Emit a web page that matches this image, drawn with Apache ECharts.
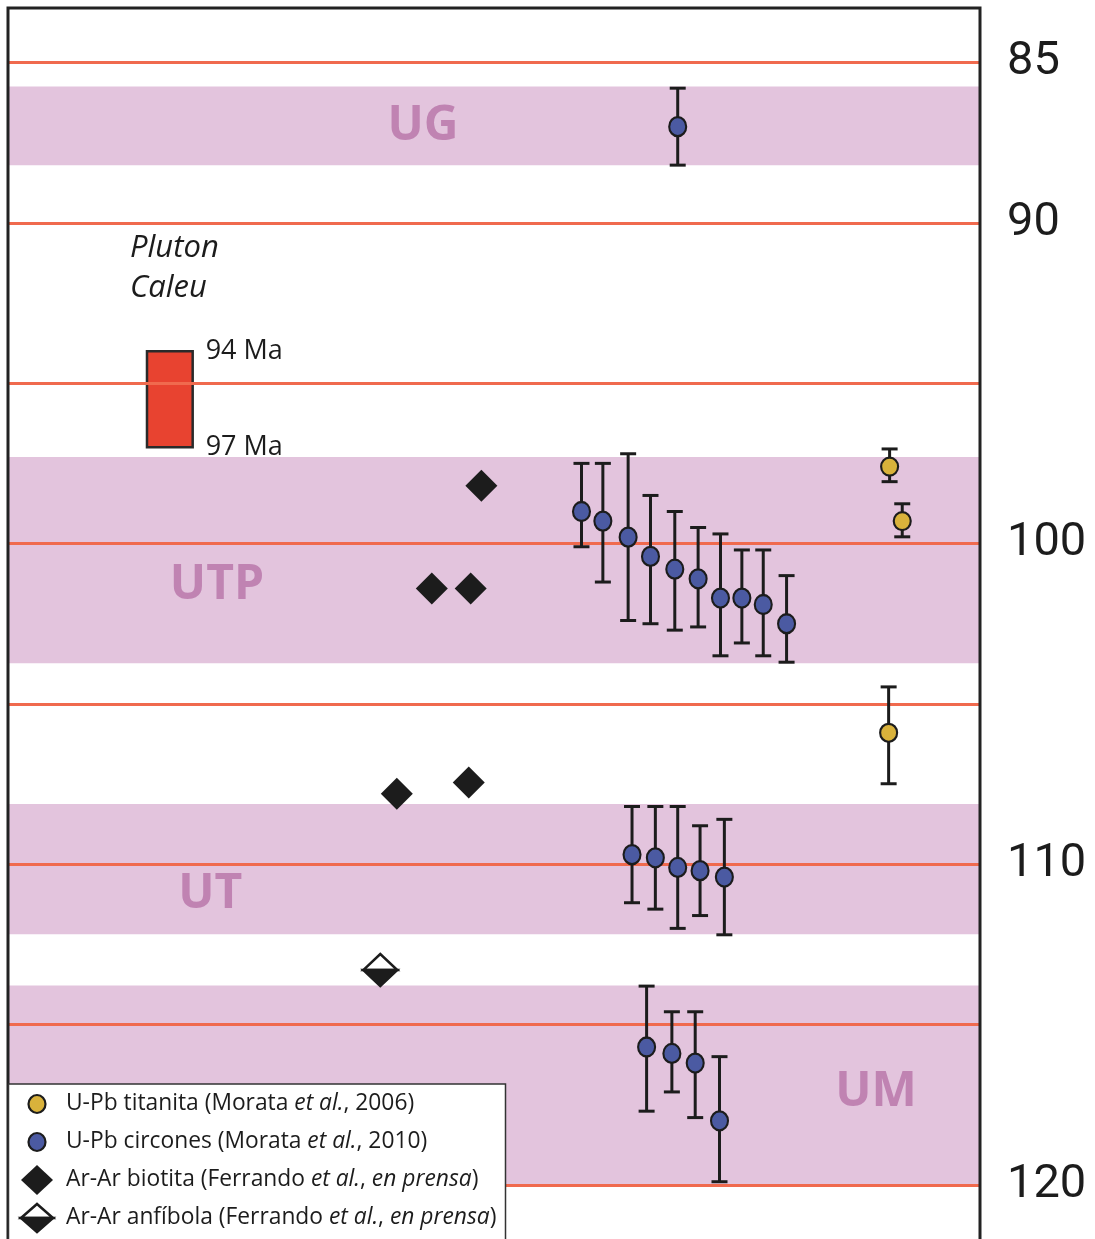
<!DOCTYPE html>
<html>
<head>
<meta charset="utf-8">
<script src="https://cdn.jsdelivr.net/npm/echarts@6/dist/echarts.min.js"></script>
<style>
  html, body { margin: 0; padding: 0; background: #fff; }
  #chart { width: 1095px; height: 1239px; }
</style>
</head>
<body>
<div id="chart"></div>
<script>
// Age axis (Ma), labelled ticks and reference lines
const ageTickLabels = [85, 90, 100, 110, 120];
const ageGridLines = [85, 90, 95, 100, 105, 110, 115, 120];

// Stratigraphic units: name, age span (Ma) and label anchor
const unitNames = ['UG', 'UTP', 'UT', 'UM'];
const unitFrom = [85.75, 97.3, 108.12, 113.78];
const unitTo = [88.2, 103.73, 112.18, 120.0];
const unitLabelX = [42.7, 21.5, 20.8, 89.3];
const unitLabelAge = [87.0, 101.3, 110.95, 117.1];

// U-Pb zircon ages (Morata et al., 2010): column, age, error limits
const zirconX = [68.9, 59.0, 61.2, 63.8, 66.1, 68.6, 71.0, 73.3, 75.5, 77.7, 80.1,
                 64.2, 66.6, 68.9, 71.2, 73.7, 65.7, 68.3, 70.7, 73.2];
const zirconAge = [87.0, 99.0, 99.3, 99.8, 100.4, 100.8, 101.1, 101.7, 101.7, 101.9, 102.5,
                   109.7, 109.8, 110.1, 110.2, 110.4, 115.7, 115.9, 116.2, 118.0];
const zirconMin = [85.8, 97.5, 97.5, 97.2, 98.5, 99.0, 99.5, 99.7, 100.2, 100.2, 101.0,
                   108.2, 108.2, 108.2, 108.8, 108.6, 113.8, 114.6, 114.6, 116.0];
const zirconMax = [88.2, 100.1, 101.2, 102.4, 102.5, 102.7, 102.6, 103.5, 103.1, 103.5, 103.7,
                   111.2, 111.4, 112.0, 111.6, 112.2, 117.7, 117.1, 117.9, 119.9];

// U-Pb titanite ages (Morata et al., 2006)
const titaniteX = [90.7, 92.0, 90.6];
const titaniteAge = [97.6, 99.3, 105.9];
const titaniteMin = [97.05, 98.76, 104.47];
const titaniteMax = [98.07, 99.79, 107.49];

// Ar-Ar biotite ages (Ferrando et al., en prensa)
const biotiteX = [48.7, 43.6, 47.6, 40.0, 47.4];
const biotiteAge = [98.2, 101.4, 101.4, 107.8, 107.45];

// Ar-Ar amphibole age (Ferrando et al., en prensa)
const amphiboleX = [38.3];
const amphiboleAge = [113.3];

// Caleu pluton emplacement range
const plutonX = [14.3, 19.0];
const plutonAge = [94, 97];

const C = {
  band: '#e3c4dd', bandText: '#b673a8', grid: '#f06a4e', ink: '#1c1c1c',
  zircon: '#4b5aa2', titanite: '#d9b23b', pluton: '#e84330'
};
const layout = { left: 8, top: 8, right: 115, bottom: 0 };
const W = 1095, H = 1239;

const chart = echarts.init(document.getElementById('chart'), null, { renderer: 'canvas' });

function errorBars(params, api) {
  const x = api.value(0);
  const a = api.coord([x, api.value(1)]);
  const b = api.coord([x, api.value(2)]);
  const w = 8;
  const st = { stroke: C.ink, lineWidth: 3 };
  return {
    type: 'group',
    children: [
      { type: 'line', shape: { x1: a[0], y1: a[1], x2: b[0], y2: b[1] }, style: st },
      { type: 'line', shape: { x1: a[0] - w, y1: a[1], x2: a[0] + w, y2: a[1] }, style: st },
      { type: 'line', shape: { x1: b[0] - w, y1: b[1], x2: b[0] + w, y2: b[1] }, style: st }
    ]
  };
}

function halfDiamond(cx, cy, s, h, z) {
  return [
    { type: 'polygon', z, shape: { points: [[cx - s, cy], [cx, cy - h], [cx + s, cy]] },
      style: { fill: '#fff', stroke: C.ink, lineWidth: 2.5 } },
    { type: 'polygon', z, shape: { points: [[cx - s, cy], [cx + s, cy], [cx, cy + h]] },
      style: { fill: C.ink, stroke: C.ink, lineWidth: 2.5 } }
  ];
}

const textFont = '"Open Sans", sans-serif';

const option = {
  backgroundColor: '#fff',
  animation: false,
  grid: { left: layout.left, top: layout.top, right: layout.right, bottom: layout.bottom, show: false },
  xAxis: { type: 'value', min: 0, max: 100, show: false },
  yAxis: {
    type: 'value', inverse: true, min: 83.3, max: 121.686, position: 'right',
    axisLine: { show: false }, axisTick: { show: false }, splitLine: { show: false },
    axisLabel: {
      customValues: ageTickLabels, margin: 27, fontSize: 47, color: C.ink,
      fontFamily: 'Roboto', align: 'left'
    }
  },
  series: [
    {
      name: 'unidades', type: 'scatter', data: [], z: 1, silent: true,
      markArea: {
        silent: true, itemStyle: { color: C.band },
        data: unitNames.map((n, i) => [{ yAxis: unitFrom[i] }, { yAxis: unitTo[i] }])
      }
    },
    {
      name: 'lineas', type: 'scatter', data: [], z: 2, silent: true,
      markLine: {
        silent: true, symbol: 'none', label: { show: false },
        lineStyle: { color: C.grid, width: 2.8, type: 'solid' },
        data: ageGridLines.map(v => ({ yAxis: v }))
      }
    },
    {
      name: 'nombres', type: 'scatter', symbolSize: 0, z: 3, silent: true,
      data: unitNames.map((n, i) => ({ name: n, value: [unitLabelX[i], unitLabelAge[i]] })),
      label: {
        show: true, position: 'inside', formatter: '{b}', color: C.bandText,
        fontSize: 48, fontWeight: 'bold', fontFamily: textFont
      }
    },
    {
      name: 'Pluton Caleu', type: 'custom', z: 4, silent: true,
      data: [[plutonX[0], plutonX[1], plutonAge[0], plutonAge[1]]],
      renderItem(params, api) {
        const p0 = api.coord([api.value(0), api.value(2)]);
        const p1 = api.coord([api.value(1), api.value(3)]);
        const lab = (txt, y) => ({
          type: 'text', x: p1[0] + 13, y,
          style: { text: txt, fill: C.ink, font: '27px ' + textFont, verticalAlign: 'middle' }
        });
        return {
          type: 'group',
          children: [
            { type: 'rect', shape: { x: p0[0], y: p0[1], width: p1[0] - p0[0], height: p1[1] - p0[1] },
              style: { fill: C.pluton, stroke: '#2a2a2a', lineWidth: 2.5 } },
            lab(api.value(2) + ' Ma', p0[1]),
            lab(api.value(3) + ' Ma', p1[1])
          ]
        };
      }
    },
    {
      name: 'error circones', type: 'custom', z: 5, silent: true,
      data: zirconX.map((x, i) => [x, zirconMin[i], zirconMax[i]]),
      renderItem: errorBars
    },
    {
      name: 'error titanita', type: 'custom', z: 5, silent: true,
      data: titaniteX.map((x, i) => [x, titaniteMin[i], titaniteMax[i]]),
      renderItem: errorBars
    },
    {
      name: 'U-Pb circones', type: 'scatter', z: 6, symbol: 'circle', symbolSize: [17, 19],
      itemStyle: { color: C.zircon, borderColor: C.ink, borderWidth: 2.2, opacity: 1 },
      data: zirconX.map((x, i) => [x, zirconAge[i]])
    },
    {
      name: 'U-Pb titanita', type: 'scatter', z: 6, symbol: 'circle', symbolSize: [17, 18],
      itemStyle: { color: C.titanite, borderColor: C.ink, borderWidth: 2.2, opacity: 1 },
      data: titaniteX.map((x, i) => [x, titaniteAge[i]])
    },
    {
      name: 'Ar-Ar biotita', type: 'scatter', z: 6, symbol: 'diamond', symbolSize: 32,
      itemStyle: { color: C.ink, opacity: 1 },
      data: biotiteX.map((x, i) => [x, biotiteAge[i]])
    },
    {
      name: 'Ar-Ar anfíbola', type: 'custom', z: 6, silent: true,
      data: amphiboleX.map((x, i) => [x, amphiboleAge[i]]),
      renderItem(params, api) {
        const p = api.coord([api.value(0), api.value(1)]);
        return { type: 'group', children: halfDiamond(p[0], p[1], 17, 16) };
      }
    }
  ],
  graphic: []
};

// Frame of the plot area (bottom edge runs off the page) and the legend box
const frameW = W - layout.left - layout.right;
const legendFont = 22.8;
const legendRich = {
  r: { fontSize: legendFont, fontFamily: textFont, fill: C.ink },
  i: { fontSize: legendFont, fontFamily: textFont, fontStyle: 'italic', fill: C.ink }
};
const legendRows = [
  '{r|U-Pb titanita (Morata }{i|et al.}{r|, 2006)}',
  '{r|U-Pb circones (Morata }{i|et al.}{r|, 2010)}',
  '{r|Ar-Ar biotita (Ferrando }{i|et al.}{r|, }{i|en prensa}{r|)}',
  '{r|Ar-Ar anfíbola (Ferrando }{i|et al.}{r|, }{i|en prensa}{r|)}'
];
const rowY = [1104, 1142, 1180, 1218];
const iconX = 37;
const ZL = 100;

option.graphic = [
  {
    type: 'rect', z: 50, silent: true,
    shape: { x: layout.left, y: layout.top, width: frameW, height: H + 20 },
    style: { fill: 'none', stroke: '#222', lineWidth: 3 }
  },
  {
    type: 'text', z: 50, left: 130, top: 233, silent: true,
    style: { text: 'Pluton', font: 'italic 31px ' + textFont, fill: C.ink }
  },
  {
    type: 'text', z: 50, left: 130, top: 273, silent: true,
    style: { text: 'Caleu', font: 'italic 31px ' + textFont, fill: C.ink }
  },
  { type: 'rect', z: ZL, silent: true, shape: { x: 8.5, y: 1084, width: 497, height: 200 },
    style: { fill: '#fff', stroke: '#333', lineWidth: 1.5 } },
  { type: 'ellipse', z: ZL, silent: true, shape: { cx: iconX, cy: rowY[0], rx: 8.5, ry: 9 },
    style: { fill: C.titanite, stroke: C.ink, lineWidth: 2.2 } },
  { type: 'ellipse', z: ZL, silent: true, shape: { cx: iconX, cy: rowY[1], rx: 8.5, ry: 9 },
    style: { fill: C.zircon, stroke: C.ink, lineWidth: 2.2 } },
  { type: 'polygon', z: ZL, silent: true,
    shape: { points: [[iconX - 16, rowY[2]], [iconX, rowY[2] - 15], [iconX + 16, rowY[2]], [iconX, rowY[2] + 15]] },
    style: { fill: C.ink } },
  ...halfDiamond(iconX, rowY[3], 16, 14, ZL),
  ...legendRows.map((t, i) => ({
    type: 'text', z: ZL, silent: true, x: 66, y: rowY[i],
    style: { text: t, rich: legendRich, verticalAlign: 'middle', font: legendFont + 'px ' + textFont, fill: C.ink }
  }))
];

chart.setOption(option);
</script>
</body>
</html>
